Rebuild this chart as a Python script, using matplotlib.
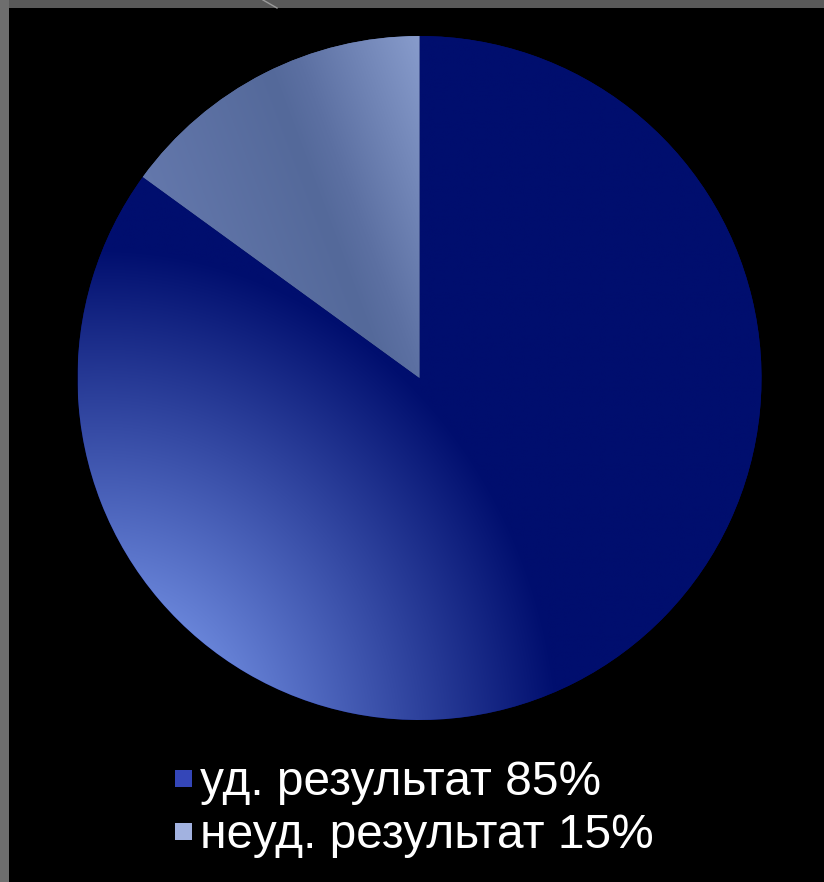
import numpy as np
import matplotlib
matplotlib.use("Agg")
import matplotlib.pyplot as plt
from matplotlib.patches import Rectangle
from matplotlib.lines import Line2D

# ---- data ----
labels = ["уд. результат 85%", "неуд. результат 15%"]
values = [85, 15]
legend_colors = ["#3446B8", "#A2B2E0"]

W, H = 824, 882
fig = plt.figure(figsize=(W / 100, H / 100), dpi=100)
fig.patch.set_facecolor("#6E6E6E")

# black slide area
bg = fig.add_axes([9 / W, 0, 1 - 9 / W, 1 - 8 / H])
bg.set_facecolor("black")
bg.set_xticks([]); bg.set_yticks([])
for s in bg.spines.values():
    s.set_visible(False)
fig.patches.append(Rectangle((9 / W, 1 - 8 / H), 1 - 9 / W, 8 / H, transform=fig.transFigure,
                             facecolor="#5A5A5A", edgecolor="none", zorder=0.5))
fig.lines.append(Line2D([263 / W, 277 / W], [1, 1 - 8 / H], transform=fig.transFigure,
                        color="#9A9A9A", lw=1.0))

# pie axes
cx, cy, R = 419.5, 378.0, 342.0
ax = fig.add_axes([(cx - R) / W, (H - cy - R) / H, 2 * R / W, 2 * R / H])
ax.set_facecolor("none")
wedges, _ = ax.pie(values, radius=1, startangle=90, counterclock=False,
                   colors=["#000E6E", "#5A6EA0"], wedgeprops=dict(linewidth=0))
ax.set_xlim(-1, 1); ax.set_ylim(-1, 1)
ax.set_aspect("equal")
ax.axis("off")

# gradient images (pixel coordinates of the picture)
n = 700
X, Y = np.meshgrid(np.linspace(-1, 1, n), np.linspace(1, -1, n))
px = cx + R * X
py = cy - R * Y

# big slice: elliptical gradient, light toward lower-left
d = np.sqrt((px - 100) ** 2 + (0.9 * (py - 760)) ** 2)
f = np.clip((460 - d) / 320, 0, 1)
dark = np.array([0, 14, 110]) / 255
light = np.array([106, 134, 218]) / 255
img1 = dark[None, None, :] + (light - dark)[None, None, :] * f[..., None]
im1 = ax.imshow(img1, extent=(-1, 1, -1, 1), zorder=2, interpolation="bilinear")
im1.set_clip_path(wedges[0])

# small slice: grey-blue with a subtle darker band
p = (px - 419) * 0.936 + (py - 378) * -0.351
stops_p = [-190, -32, 0, 120]
stops_c = np.array([[100, 120, 172], [84, 105, 154], [92, 112, 162], [136, 156, 204]]) / 255
img2 = np.stack([np.interp(p, stops_p, stops_c[:, k]) for k in range(3)], axis=-1)
im2 = ax.imshow(img2, extent=(-1, 1, -1, 1), zorder=2, interpolation="bilinear")
im2.set_clip_path(wedges[1])

# legend (manual, in picture pixels)
baselines = [795, 848]
for lab, col, yb in zip(labels, legend_colors, baselines):
    top = yb - 25
    fig.patches.append(Rectangle((175 / W, 1 - (top + 17) / H), 17 / W, 17 / H,
                                 transform=fig.transFigure, facecolor=col,
                                 edgecolor="none", zorder=3))
    fig.text(200 / W, 1 - yb / H, lab, color="white", fontsize=34.5,
             family="Liberation Sans", ha="left", va="baseline")

fig.savefig("out.png", dpi=100, facecolor=fig.get_facecolor())
